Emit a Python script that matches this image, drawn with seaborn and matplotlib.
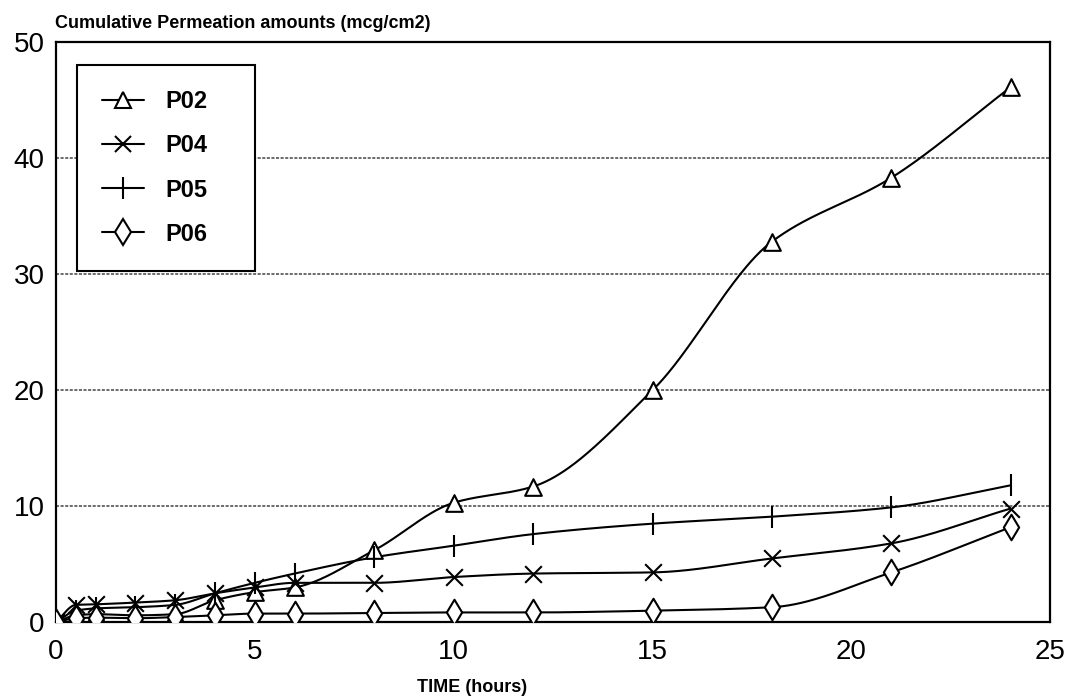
import numpy as np
import pandas as pd
import matplotlib
matplotlib.use("Agg")
import matplotlib.pyplot as plt
from matplotlib.lines import Line2D
import seaborn as sns

# Sampling times (hours)
time_h = [0, 0.5, 1, 2, 3, 4, 5, 6, 8, 10, 12, 15, 18, 21, 24]

# Cumulative permeation amounts (mcg/cm2) per formulation
p02 = [0, 0.6, 0.7, 0.6, 0.7, 1.9, 2.6, 3.0, 6.2, 10.3, 11.7, 20.0, 32.8, 38.3, 46.1]
p04 = [0, 1.5, 1.55, 1.7, 1.9, 2.5, 3.0, 3.4, 3.4, 3.9, 4.2, 4.3, 5.5, 6.8, 9.8]
p05 = [0, 1.0, 1.2, 1.3, 1.5, 2.5, 3.4, 4.2, 5.6, 6.6, 7.6, 8.5, 9.1, 9.9, 11.8]
p06 = [0, 0.35, 0.4, 0.35, 0.45, 0.6, 0.75, 0.75, 0.8, 0.85, 0.85, 1.0, 1.3, 4.3, 8.2]

series_names = ["P02", "P04", "P05", "P06"]
series_values = [p02, p04, p05, p06]

x_ticks = [0, 5, 10, 15, 20, 25]
y_ticks = [0, 10, 20, 30, 40, 50]

df = pd.DataFrame({
    "time": np.tile(time_h, len(series_names)),
    "amount": np.concatenate(series_values),
    "series": np.repeat(series_names, len(time_h)),
})

markers = {"P02": "^", "P04": "x", "P05": "|", "P06": "d"}
msizes = {"P02": 12, "P04": 12, "P05": 16, "P06": 13}


def pchip(x, y, xs):
    """Monotone cubic Hermite curve through (x, y), evaluated at xs."""
    x = np.asarray(x, float)
    y = np.asarray(y, float)
    h = np.diff(x)
    d = np.diff(y) / h
    n = len(x)
    m = np.zeros(n)
    for k in range(1, n - 1):
        if d[k - 1] * d[k] > 0:
            w1 = 2 * h[k] + h[k - 1]
            w2 = h[k] + 2 * h[k - 1]
            m[k] = (w1 + w2) / (w1 / d[k - 1] + w2 / d[k])
    m[0] = d[0]
    m[-1] = d[-1]
    idx = np.clip(np.searchsorted(x, xs) - 1, 0, n - 2)
    t = (xs - x[idx]) / h[idx]
    h00 = 2 * t**3 - 3 * t**2 + 1
    h10 = t**3 - 2 * t**2 + t
    h01 = -2 * t**3 + 3 * t**2
    h11 = t**3 - t**2
    return (h00 * y[idx] + h10 * h[idx] * m[idx]
            + h01 * y[idx + 1] + h11 * h[idx] * m[idx + 1])


sns.set_theme(style="white")
plt.rcParams["font.family"] = ["Liberation Sans", "DejaVu Sans"]
plt.rcParams["text.color"] = "black"

fig = plt.figure(figsize=(10.74, 7.0), dpi=100)
ax = fig.add_axes([0.052, 0.111, 0.926, 0.829])

# smooth connecting curves
for name, vals in zip(series_names, series_values):
    xs = np.linspace(time_h[0], time_h[-1], 600)
    ax.plot(xs, pchip(time_h, vals, xs), color="black", lw=1.5, zorder=2)

# data markers
for name in series_names:
    sub = df[df["series"] == name]
    filled = markers[name] in ("x", "|")
    sns.scatterplot(
        data=sub, x="time", y="amount", ax=ax,
        marker=markers[name], s=msizes[name] ** 2,
        facecolor="black" if filled else "white",
        edgecolor="black", linewidth=1.5, zorder=3, legend=False,
        color="black",
    )

ax.set_xlim(0, 25)
ax.set_ylim(0, 50)
ax.set_xticks(x_ticks)
ax.set_yticks(y_ticks)
ax.set_xlabel("")
ax.set_ylabel("")
ax.tick_params(axis="both", labelsize=20, colors="black")
ax.tick_params(axis="x", direction="in", length=6, width=1.3, pad=12)
ax.tick_params(axis="y", length=0, pad=8)

for yv in y_ticks[1:-1]:
    ax.axhline(yv, color="#444444", lw=1.1, ls=(0, (2, 1)), zorder=1)

for sp in ax.spines.values():
    sp.set_visible(True)
    sp.set_color("black")
    sp.set_linewidth(1.6)

fig.text(0.051, 0.978, "Cumulative Permeation amounts (mcg/cm2)",
         fontsize=13, fontweight="bold", ha="left", va="top", color="black")
fig.text(0.44, 0.005, "TIME (hours)", fontsize=13, fontweight="bold",
         ha="center", va="bottom", color="black")

handles = []
for name in series_names:
    filled = markers[name] in ("x", "|")
    handles.append(Line2D([0], [0], color="black", lw=1.5,
                          marker=markers[name], markersize=msizes[name],
                          markerfacecolor="black" if filled else "white",
                          markeredgecolor="black", markeredgewidth=1.5))
leg = ax.legend(handles, series_names, loc="upper left",
                bbox_to_anchor=(0.021, 0.96, 0.179, 0.0), mode="expand",
                prop={"weight": "bold", "size": 17}, handlelength=1.8,
                labelspacing=0.9, borderpad=1.05, handletextpad=0.9,
                fancybox=False, framealpha=1.0, edgecolor="black",
                borderaxespad=0)
leg.get_frame().set_linewidth(1.5)
for t in leg.get_texts():
    t.set_color("black")

fig.savefig("out.png", dpi=100, facecolor="white")
